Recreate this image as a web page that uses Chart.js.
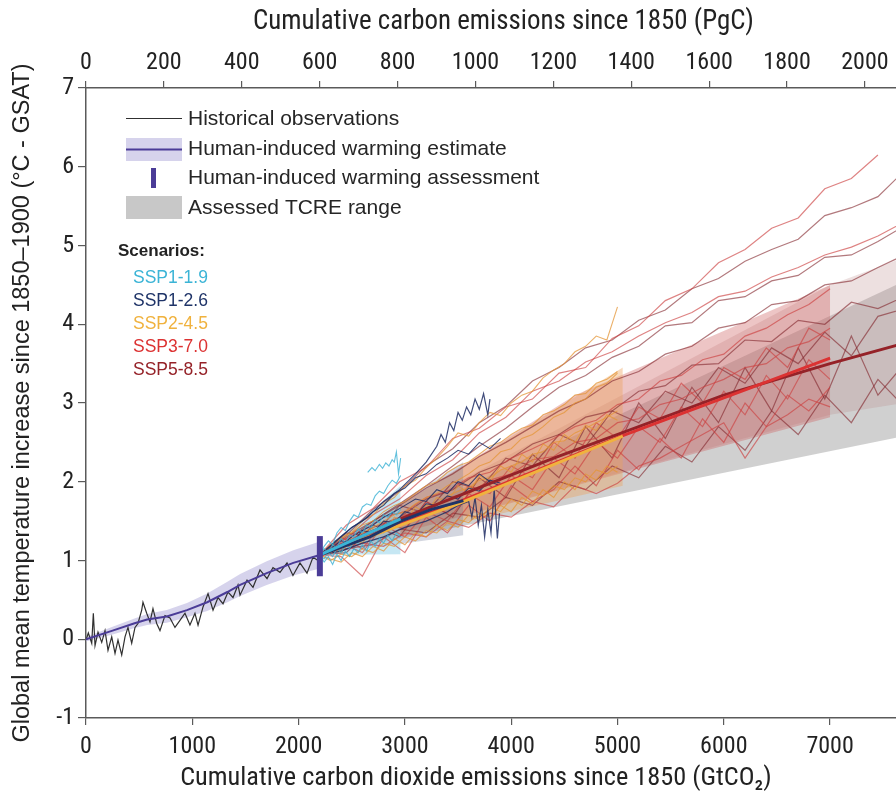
<!DOCTYPE html>
<html><head><meta charset="utf-8">
<script src="https://cdn.jsdelivr.net/npm/chart.js@4.4.1/dist/chart.umd.min.js"></script>
<style>html,body{margin:0;padding:0;background:#fff;}#wrap{width:896px;height:798px;}</style>
</head><body><div id="wrap"><canvas id="c" width="896" height="798"></canvas></div>
<script>
// ---- axis settings ----
const X_MAX = 7620;             // GtCO2 at right edge
const GTCO2_PER_PGC = 3.664;
const xTickVals  = [0,1000,2000,3000,4000,5000,6000,7000];
const x2TickVals = [0,200,400,600,800,1000,1200,1400,1600,1800,2000];
const yTickVals  = [-1,0,1,2,3,4,5,6,7];

// ---- historical observations ----
const histX = [0,22,54,69,85,113,148,179,207,242,273,301,336,367,395,430,461,489,524,536,571,602,630,665,696,743,790,837,884,931,978,1025,1054,1101,1148,1195,1242,1289,1336,1383,1430,1449,1515,1571,1637,1703,1759,1825,1891,1947,2013,2079,2135,2183];
const histY = [-0.01,0.08,-0.05,0.33,-0.08,0.09,-0.04,0.11,-0.14,0.03,-0.18,-0.01,-0.2,0.03,0.15,-0.05,0.15,0.2,0.37,0.47,0.33,0.22,0.39,0.2,0.11,0.3,0.27,0.15,0.24,0.33,0.18,0.33,0.18,0.41,0.58,0.37,0.53,0.45,0.6,0.53,0.69,0.56,0.75,0.66,0.88,0.77,0.91,0.85,0.97,0.81,0.97,0.84,1.04,1.0];

// ---- human-induced warming estimate ----
const humanX  = [0,250,450,575,760,950,1140,1330,1450,1700,1950,2200];
const humanY  = [0.0,0.11,0.2,0.25,0.29,0.37,0.47,0.6,0.69,0.84,0.97,1.07];
const humanLo = [-0.03,0.06,0.14,0.18,0.21,0.28,0.36,0.47,0.55,0.69,0.81,0.9];
const humanHi = [0.03,0.16,0.26,0.32,0.37,0.46,0.58,0.73,0.83,0.99,1.13,1.24];

// ---- human-induced warming assessment ----
const assessX = [2200,2200];
const assessY = [0.8,1.31];

// ---- assessed TCRE range ----
const tcreX  = [2200,7700];
const tcreLo = [1.07,2.58];
const tcreHi = [1.07,4.55];

// ---- scenario ranges ----
const s19X = [2200,2960], s19Lo = [1.07,1.08], s19Hi = [1.07,1.95];
const s26X = [2200,3550], s26Lo = [1.07,1.32], s26Hi = [1.07,2.25];
const s45X = [2200,5050], s45Lo = [1.07,1.95], s45Hi = [1.07,3.45];
const s70X = [2200,4600,7000], s70Lo = [1.07,1.95,2.82], s70Hi = [1.07,3.1,4.5];
const s85X = [2200,7000,7700], s85Lo = [1.07,2.85,3.0], s85Hi = [1.07,4.5,4.85];

// ---- scenario central lines ----
const m19X = [2200,2960], m19Y = [1.07,1.53];
const m26X = [2200,2670,2960,3250,3550], m26Y = [1.07,1.3,1.5,1.65,1.76];
const m45X = [2200,3500,5050], m45Y = [1.07,1.72,2.58];
const m70X = [2200,3500,5000,7000], m70Y = [1.07,1.74,2.56,3.57];
const m85X = [2200,3000,4400,6000,7000,7700], m85Y = [1.07,1.55,2.3,3.1,3.5,3.76];

// ---- individual simulations: SSP1-1.9 ----
const xC = [2200,2240,2280,2320,2360,2400,2440,2480,2520,2560,2600,2640,2680,2720,2760,2800,2840,2880,2920,2960];
const c1 = [1.07,1.15,1.1,1.2,1.16,1.28,1.22,1.32,1.3,1.4,1.35,1.45,1.42,1.52,1.48,1.58,1.55,1.62,1.58,1.65];
const c2 = [1.07,1.02,1.1,1.05,1.15,1.1,1.2,1.15,1.25,1.22,1.3,1.28,1.38,1.32,1.42,1.4,1.48,1.45,1.52,1.5];
const c3 = [1.07,1.18,1.25,1.2,1.35,1.42,1.38,1.5,1.58,1.55,1.68,1.72,1.7,1.82,1.88,1.85,1.95,2.02,1.98,2.08];
const c4 = [1.07,0.98,1.05,0.95,1.08,1.0,1.12,1.05,1.15,1.1,1.2,1.12,1.25,1.18,1.28,1.22,1.32,1.25,1.35,1.3];
const c5X = [2650,2690,2720,2760,2790,2820,2850,2880,2900,2920,2940,2960];
const c5  = [2.12,2.18,2.14,2.22,2.17,2.24,2.2,2.28,2.25,2.38,2.1,2.3];

// ---- SSP1-2.6 ----
const xN = [2200,2300,2400,2500,2600,2700,2800,2900,3000,3100,3200,3300,3400,3500,3600,3700,3800,3900];
const n2 = [1.07,1.12,1.2,1.3,1.38,1.45,1.55,1.62,1.7,1.78,1.75,1.9,1.85,2.0,1.95,2.1,2.0,1.95];
const n5 = [1.07,1.15,1.25,1.22,1.38,1.35,1.5,1.48,1.62,1.58,1.72,1.7,1.82,1.78,1.92,1.88,2.02,1.98];
const n6 = [1.07,1.18,1.3,1.42,1.5,1.62,1.7,1.85,1.92,2.05,2.1,2.22,2.3,2.4,2.35,2.5,2.42,2.55];
const n1X = [2200,2350,2500,2650,2800,2950,3100,3200,3300,3340,3380,3420,3460,3500,3540,3580,3620,3660,3700,3740,3780,3800];
const n1  = [1.07,1.25,1.42,1.55,1.75,1.9,2.1,2.25,2.45,2.6,2.5,2.75,2.65,2.88,2.78,2.95,2.85,3.05,2.92,3.12,2.85,3.05];
const n3X = [2200,2400,2600,2800,3000,3200,3400,3500,3600,3630,3660,3690,3720,3750,3780,3810,3840,3870,3890];
const n3  = [1.07,1.12,1.22,1.3,1.42,1.5,1.62,1.7,1.75,1.55,1.8,1.45,1.7,1.3,1.65,1.35,1.9,1.28,1.6];

// ---- SSP2-4.5 ----
const xO = [2200,2300,2400,2500,2600,2700,2800,2900,3000,3100,3200,3300,3400,3500,3600,3700,3800,3900,4000,4100,4200,4300,4400,4500,4600,4700,4800,4900,5000];
const o1 = [1.07,1.18,1.3,1.36,1.5,1.58,1.72,1.8,1.95,2.02,2.18,2.3,2.45,2.62,2.58,2.75,2.88,2.84,3.0,3.1,3.15,3.32,3.42,3.5,3.65,3.72,3.85,3.8,4.22];
const o2 = [1.07,1.1,1.2,1.25,1.35,1.42,1.5,1.58,1.62,1.72,1.8,1.85,1.95,2.02,2.1,2.2,2.25,2.38,2.42,2.55,2.6,2.7,2.82,2.88,3.0,3.05,3.2,3.25,3.38];
const o3 = [1.07,1.15,1.1,1.28,1.22,1.4,1.35,1.55,1.5,1.68,1.6,1.8,1.75,1.95,1.85,2.08,2.0,2.2,2.12,2.35,2.25,2.48,2.4,2.6,2.5,2.72,2.65,2.85,2.78];
const o4 = [1.07,1.0,1.08,1.05,1.15,1.1,1.22,1.18,1.3,1.25,1.38,1.35,1.48,1.42,1.58,1.52,1.68,1.62,1.78,1.7,1.88,1.82,1.95,1.9,2.05,2.0,2.15,2.1,2.2];
const o5 = [1.07,1.2,1.28,1.35,1.45,1.5,1.62,1.7,1.75,1.85,1.95,2.0,2.12,2.2,2.25,2.35,2.45,2.5,2.6,2.68,2.72,2.85,2.9,2.98,3.1,3.12,3.25,3.3,3.4];
const o6 = [1.07,1.12,1.18,1.2,1.3,1.36,1.4,1.5,1.55,1.58,1.7,1.72,1.82,1.88,1.92,2.02,2.05,2.15,2.2,2.25,2.35,2.38,2.5,2.52,2.62,2.68,2.75,2.82,2.9];
const o7 = [1.07,1.02,0.98,1.1,1.05,1.18,1.12,1.28,1.2,1.35,1.3,1.45,1.38,1.52,1.48,1.6,1.55,1.7,1.62,1.8,1.72,1.9,1.8,2.0,1.9,2.1,2.02,2.2,2.12];

// ---- SSP3-7.0 ----
const xR = [2200,2400,2600,2800,3000,3200,3400,3600,3800,4000,4200,4400,4600,4800,5000,5200,5400,5600,5800,6000,6200,6400,6600,6800,7000];
const rE = [1.07,1.25,1.38,1.55,1.62,1.8,1.88,2.05,2.12,2.3,2.42,2.55,2.7,2.78,2.98,3.05,3.28,3.35,3.55,3.62,3.85,3.95,4.12,4.25,4.45];
const rJ = [1.07,1.3,1.15,1.48,1.4,1.75,1.6,1.95,1.85,2.2,2.05,2.5,2.3,2.75,2.55,2.95,2.8,3.25,3.0,3.45,3.3,3.7,3.45,3.95,3.8];
const rK = [1.07,1.05,0.8,1.3,1.1,1.55,1.35,1.7,1.5,1.95,1.75,1.9,2.2,1.95,2.4,2.15,2.55,2.3,2.8,2.5,3.0,2.7,3.1,2.9,3.2];
const rL = [1.07,1.12,1.22,1.18,1.35,1.3,1.5,1.42,1.6,1.55,1.75,1.68,1.95,1.85,1.98,2.2,2.3,2.45,2.6,2.75,2.3,2.7,2.85,3.05,2.95];
const rM = [1.07,1.2,1.35,1.4,1.58,1.62,1.8,1.85,2.02,2.1,2.28,2.32,2.5,2.55,2.75,2.8,2.98,3.05,3.2,3.3,3.45,3.5,3.7,3.78,3.95];
const rN = [1.07,1.22,1.1,1.45,1.3,1.62,1.5,1.85,1.68,2.08,1.9,2.3,2.1,2.5,2.3,2.7,2.5,2.95,2.7,3.15,2.85,3.35,3.05,3.55,3.3];

// ---- long simulations (SSP3-7.0 top, SSP5-8.5) ----
const xA = [2200,2450,2700,2950,3200,3450,3700,3950,4200,4450,4700,4950,5200,5450,5700,5950,6200,6450,6700,6950,7200,7450,7700];
const rA = [1.07,1.45,1.66,2.0,2.18,2.55,2.68,2.95,3.05,3.38,3.45,3.82,3.98,4.3,4.45,4.78,4.95,5.22,5.35,5.72,5.85,6.15,null];
const rC = [1.07,1.28,1.58,1.78,2.08,2.28,2.62,2.82,3.15,3.28,3.52,3.65,3.85,4.02,4.15,4.35,4.42,4.6,4.72,4.88,4.98,5.12,5.3];
const dB = [1.07,1.32,1.65,1.88,2.2,2.42,2.75,2.96,3.28,3.45,3.7,3.8,4.05,4.18,4.45,4.58,4.8,4.95,5.08,5.38,5.48,5.62,5.95];
const dD = [1.07,1.25,1.5,1.72,1.95,2.2,2.45,2.68,2.95,3.2,3.35,3.58,3.72,3.98,4.02,4.3,4.35,4.55,4.62,4.85,4.88,5.05,5.25];
const dF = [1.07,1.3,1.5,1.7,1.92,2.1,2.32,2.5,2.7,2.9,3.05,3.28,3.4,3.62,3.72,3.95,4.02,4.25,4.3,4.5,4.55,4.72,4.88];
const dG = [1.07,1.35,1.3,1.7,1.6,2.0,1.9,2.3,2.2,2.6,2.45,2.9,2.75,3.15,3.0,3.45,3.25,3.7,3.5,3.9,3.6,4.1,4.2];
const dH = [1.07,1.1,1.45,1.3,1.75,1.55,2.05,1.8,2.35,2.05,2.7,2.3,3.0,2.55,3.2,2.75,3.45,2.9,3.7,3.05,3.85,3.1,3.5];
const dI = [1.07,1.15,1.2,1.4,1.35,1.6,1.55,1.8,1.7,2.0,1.9,2.2,2.05,2.45,2.25,2.7,2.4,2.9,2.6,3.1,2.75,3.3,2.95];
const dJ = [1.07,1.22,1.42,1.55,1.78,1.9,2.12,2.25,2.48,2.6,2.82,2.9,3.15,3.22,3.48,3.5,3.8,3.78,4.05,4.0,4.28,4.2,4.35];

// ---- colours ----
const COL = {
  s19:'#3bb4d6', s26:'#1f3468', s45:'#f0b23e', s70:'#dc3232', s85:'#952228',
  s19t:'rgba(60,178,212,0.8)', s26t:'rgba(30,45,100,0.85)', s45t:'rgba(228,150,55,0.75)',
  s70t:'rgba(205,65,65,0.65)', s85t:'rgba(130,38,45,0.62)',
  s19b:'rgba(160,215,235,0.6)', s26b:'rgba(110,120,150,0.3)', s45b:'rgba(236,160,90,0.4)',
  s70b:'rgba(205,95,95,0.36)', s85b:'rgba(185,130,130,0.25)',
  hist:'#303030', human:'#4b3c97', humanBand:'rgba(200,196,230,0.75)', tcre:'rgba(195,195,195,0.78)'
};
const COND = '"Roboto Condensed",Roboto,sans-serif';
const SANS = '"Liberation Sans",Arial,Helvetica,sans-serif';

function pts(xs, ys){const o=[];for(let i=0;i<xs.length;i++){if(ys[i]!==null&&ys[i]!==undefined)o.push({x:xs[i],y:ys[i]});}return o;}
const datasets = [];
function line(label, xs, ys, color, width, order){
  datasets.push({label, data:pts(xs,ys), borderColor:color, borderWidth:width, pointRadius:0, fill:false, tension:0, order, borderCapStyle:'butt', borderJoinStyle:'miter'});
}
function band(label, xs, lo, hi, color, order){
  const idx = datasets.length;
  datasets.push({label:label+' lower', data:pts(xs,lo), borderColor:'rgba(0,0,0,0)', borderWidth:0, pointRadius:0, fill:false, order});
  datasets.push({label:label, data:pts(xs,hi), borderColor:'rgba(0,0,0,0)', borderWidth:0, pointRadius:0, fill:{target:idx}, backgroundColor:color, order});
}

band('Human-induced warming range', humanX, humanLo, humanHi, COL.humanBand, 100);
band('Assessed TCRE range', tcreX, tcreLo, tcreHi, COL.tcre, 95);
band('SSP5-8.5 range', s85X, s85Lo, s85Hi, COL.s85b, 90);
band('SSP3-7.0 range', s70X, s70Lo, s70Hi, COL.s70b, 89);
band('SSP2-4.5 range', s45X, s45Lo, s45Hi, COL.s45b, 88);
band('SSP1-2.6 range', s26X, s26Lo, s26Hi, COL.s26b, 87);
band('SSP1-1.9 range', s19X, s19Lo, s19Hi, COL.s19b, 86);

[dB,dD,dF,dG,dH,dI,dJ].forEach((v,i)=>line('SSP5-8.5 sim '+(i+1), xA, v, COL.s85t, 1.2, 60));
[rA,rC].forEach((v,i)=>line('SSP3-7.0 long sim '+(i+1), xA, v, COL.s70t, 1.2, 59));
[rE,rJ,rK,rL,rM,rN].forEach((v,i)=>line('SSP3-7.0 sim '+(i+1), xR, v, COL.s70t, 1.2, 58));
[o1,o2,o3,o4,o5,o6,o7].forEach((v,i)=>line('SSP2-4.5 sim '+(i+1), xO, v, COL.s45t, 1.1, 57));
line('SSP1-2.6 sim 1', n1X, n1, COL.s26t, 1.2, 56);
[n2,n5,n6].forEach((v,i)=>line('SSP1-2.6 sim '+(i+2), xN, v, COL.s26t, 1.1, 56));
line('SSP1-2.6 sim 5', n3X, n3, COL.s26t, 1.2, 56);
[c1,c2,c3,c4].forEach((v,i)=>line('SSP1-1.9 sim '+(i+1), xC, v, COL.s19t, 1.1, 55));
line('SSP1-1.9 sim 5', c5X, c5, COL.s19t, 1.1, 55);

line('Historical observations', histX, histY, COL.hist, 1.2, 40);
line('Human-induced warming estimate', humanX, humanY, COL.human, 2, 30);
line('SSP5-8.5', m85X, m85Y, COL.s85, 3, 24);
line('SSP3-7.0', m70X, m70Y, COL.s70, 3, 23);
line('SSP2-4.5', m45X, m45Y, COL.s45, 3, 22);
line('SSP1-2.6', m26X, m26Y, COL.s26, 3, 21);
line('SSP1-1.9', m19X, m19Y, COL.s19, 3, 20);
line('Human-induced warming assessment', assessX, assessY, COL.human, 6, 10);

const legendPlugin = {
  id:'customLegend',
  afterDraw(chart){
    const ctx = chart.ctx;
    ctx.save();
    ctx.textBaseline = 'middle'; ctx.textAlign = 'left';
    ctx.font = '21px ' + SANS; ctx.fillStyle = '#262626';
    ctx.strokeStyle = COL.hist; ctx.lineWidth = 1;
    ctx.beginPath(); ctx.moveTo(126,118.5); ctx.lineTo(182,118.5); ctx.stroke();
    ctx.fillText('Historical observations', 188, 119);
    ctx.fillStyle = COL.humanBand; ctx.fillRect(126,138,56,23);
    ctx.strokeStyle = COL.human; ctx.lineWidth = 2;
    ctx.beginPath(); ctx.moveTo(126,149.5); ctx.lineTo(182,149.5); ctx.stroke();
    ctx.fillStyle = '#262626'; ctx.fillText('Human-induced warming estimate', 188, 149);
    ctx.fillStyle = COL.human; ctx.fillRect(151,168,5,20);
    ctx.fillStyle = '#262626'; ctx.fillText('Human-induced warming assessment', 188, 178);
    ctx.fillStyle = 'rgb(200,200,200)'; ctx.fillRect(126,196,56,23);
    ctx.fillStyle = '#262626'; ctx.fillText('Assessed TCRE range', 188, 208);
    ctx.font = 'bold 17px ' + SANS; ctx.fillStyle = '#222';
    ctx.fillText('Scenarios:', 118, 251);
    ctx.font = '17.5px ' + SANS;
    const sc = [['SSP1-1.9',COL.s19],['SSP1-2.6',COL.s26],['SSP2-4.5',COL.s45],['SSP3-7.0',COL.s70],['SSP5-8.5',COL.s85]];
    sc.forEach((s,i)=>{ctx.fillStyle=s[1]; ctx.fillText(s[0], 133, 278 + i*23);});
    ctx.restore();
  }
};

const axisCol = '#5a5a5a';
const setTicks = (vals) => (s) => { s.ticks = vals.map(v => ({value:v})); };
new Chart(document.getElementById('c'), {
  type:'line',
  data:{datasets},
  plugins:[legendPlugin],
  options:{
    responsive:false, animation:false, events:[],
    layout:{padding:0},
    plugins:{legend:{display:false}, tooltip:{enabled:false}, filler:{propagate:false}},
    scales:{
      x:{type:'linear', position:'bottom', min:0, max:X_MAX,
        afterBuildTicks:setTicks(xTickVals),
        ticks:{autoSkip:false, maxRotation:0, padding:8, color:'#222', font:{family:COND, size:24}, callback:(v)=>String(v)},
        grid:{drawOnChartArea:false, drawTicks:true, tickLength:7, color:axisCol, lineWidth:1.2},
        border:{display:true, color:axisCol, width:1.5},
        title:{display:true, text:'Cumulative carbon dioxide emissions since 1850 (GtCO\u2082)     ', color:'#222', font:{family:COND, size:26.3}, padding:{top:0,bottom:4}},
        afterFit:(s)=>{s.height = 80;}
      },
      x2:{type:'linear', position:'top', min:0, max:X_MAX/GTCO2_PER_PGC,
        afterBuildTicks:setTicks(x2TickVals),
        ticks:{autoSkip:false, maxRotation:0, padding:4, color:'#222', font:{family:COND, size:24}, callback:(v)=>String(v)},
        grid:{drawOnChartArea:false, drawTicks:true, tickLength:7, color:axisCol, lineWidth:1.2},
        border:{display:true, color:axisCol, width:1.5},
        title:{display:true, text:'    Cumulative carbon emissions since 1850 (PgC)', color:'#222', font:{family:COND, size:26.9}, padding:{top:6,bottom:0}},
        afterFit:(s)=>{s.height = 88;}
      },
      y:{type:'linear', position:'left', min:-1, max:7,
        afterBuildTicks:setTicks(yTickVals),
        ticks:{padding:4, color:'#222', font:{family:COND, size:24}, callback:(v)=>String(v)},
        grid:{drawOnChartArea:false, drawTicks:true, tickLength:8, color:axisCol, lineWidth:1.2},
        border:{display:true, color:axisCol, width:1.5},
        title:{display:true, text:'Global mean temperature increase since 1850\u20131900 (\u00b0C - GSAT)', color:'#222', font:{family:SANS, size:23.5}, padding:{top:8,bottom:0}},
        afterFit:(s)=>{s.width = 86;}
      }
    }
  }
});
</script></body></html>
